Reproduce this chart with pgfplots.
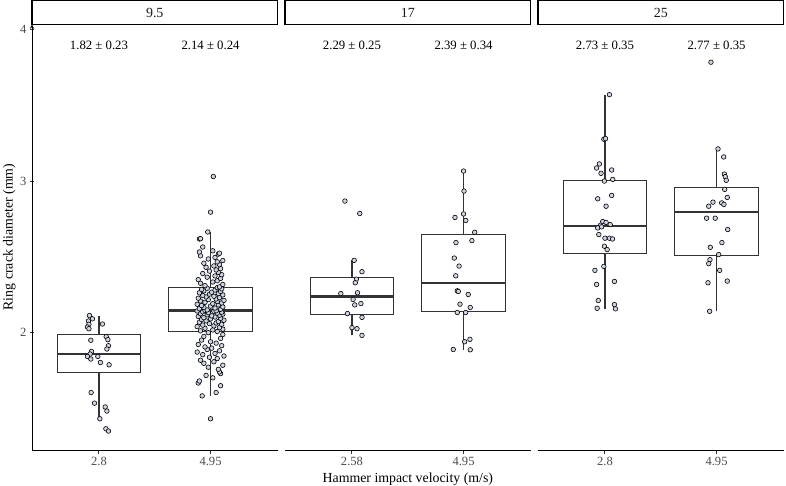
\documentclass[border=0pt]{standalone}
\usepackage{fontspec}
\setmainfont{Liberation Serif}
\usepackage{pgfplots}
\pgfplotsset{compat=1.18}
\definecolor{ptfill}{RGB}{205,213,228}
\definecolor{boxcol}{RGB}{51,51,51}
\definecolor{ticklab}{RGB}{77,77,77}
\definecolor{striptext}{RGB}{26,26,26}
\pgfplotsset{
  facet/.style={
    scale only axis, width=245.5bp, height=425.7bp,
    xmin=0.4, xmax=2.6, ymin=1.226, ymax=4.034,
    xtick={1,2}, clip=false,
    axis x line=bottom,
    axis line style={-, black, line width=1bp},
    tick style={boxcol, line width=1bp},
    major tick length=4bp, tick align=outside,
    tick label style={font=\fontsize{12.6}{15}\selectfont, text=ticklab},
    /pgf/number format/assume math mode=true,
  },
  boxline/.style={boxcol, line width=1.1bp, no marks, line join=miter},
  pts/.style={only marks, mark=*, mark size=2.3bp,
    mark options={fill=ptfill, draw=black, line width=0.6bp}},
}
% #1 left, #2 centre, #3 right, #4 lower whisker, #5 lower quartile, #6 median, #7 upper quartile, #8 upper whisker
\newcommand{\bx}[8]{%
  \addplot[boxline] coordinates {(#2,#7) (#2,#8)};
  \addplot[boxline] coordinates {(#2,#4) (#2,#5)};
  \addplot[boxline] coordinates {(#1,#5) (#3,#5) (#3,#7) (#1,#7) (#1,#5) (#3,#5)};
  \addplot[boxline, line width=2.6bp] coordinates {(#1,#6) (#3,#6)};}
\newcommand{\strip}[1]{%
  \draw[line width=1.1bp, black] (rel axis cs:0,1) rectangle ([yshift=23.4bp]rel axis cs:1,1);
  \node[font=\fontsize{14}{16}\selectfont, text=striptext] at ([yshift=11.7bp]rel axis cs:0.5,1) {#1};}
\newcommand{\annot}[2]{%
  \node[anchor=base, font=\fontsize{12.8}{15}\selectfont] at (axis cs:#1,3.869) {#2};}
\begin{document}
\begin{tikzpicture}
\useasboundingbox (0,0) rectangle (786bp,486bp);
% ---------------- panel 9.5
\begin{axis}[facet, at={(32bp,36bp)}, anchor=south west,
  axis y line=left, ytick={2,3,4}, xticklabels={2.8,4.95}]
\bx{0.625}{1}{1.375}{1.432}{1.74}{1.859}{1.985}{2.108}
\bx{1.625}{2}{2.375}{1.583}{2.005}{2.146}{2.296}{2.664}
\addplot[pts] coordinates {
(0.915,2.113) (0.942,2.091) (0.906,2.077) (0.910,2.055) (0.897,2.037) (0.910,2.026)
(1.031,2.057) (1.065,1.974) (1.080,1.954) (0.927,1.950) (1.085,1.914) (1.071,1.892)
(0.933,1.876) (0.921,1.859) (0.897,1.843) (0.927,1.826) (0.990,1.843) (1.013,1.803)
(1.091,1.788) (0.930,1.605) (0.960,1.535) (1.056,1.510) (1.071,1.483) (1.008,1.432)
(1.062,1.366) (1.085,1.351)
};
\addplot[pts] coordinates {
(2.00,1.432) (1.925,1.583) (2.05,1.605) (2.09,1.650) (1.89,1.668) (1.90,1.681)
(2.02,1.702) (1.96,1.718) (2.09,1.730) (2.08,1.741) (2.07,1.758) (1.98,1.772)
(2.11,1.785) (1.94,1.798) (2.03,1.808) (1.91,1.818) (2.06,1.829) (1.99,1.838)
(2.12,1.846) (1.93,1.855) (2.04,1.863) (1.88,1.872) (2.08,1.880) (1.97,1.889)
(2.01,1.898) (1.95,1.906) (2.10,1.914) (1.89,1.922) (2.05,1.931) (2.00,1.940)
(1.92,1.951) (2.09,1.962) (1.94,1.975) (2.11,1.988) (1.98,2.000)
(2.06,2.008) (1.91,2.012) (2.02,2.018) (2.11,2.023) (1.95,2.029) (2.08,2.034)
(1.88,2.040) (2.03,2.045) (1.93,2.050) (2.10,2.055) (1.99,2.060) (2.05,2.064)
(1.90,2.069) (2.07,2.073) (1.96,2.078) (2.12,2.082) (1.92,2.087) (2.00,2.091)
(2.09,2.095) (1.94,2.099) (2.04,2.103) (1.89,2.107) (2.01,2.111) (2.08,2.115)
(1.97,2.118) (2.11,2.122) (1.91,2.125) (2.06,2.129) (1.98,2.132) (2.10,2.135)
(1.93,2.138) (2.03,2.141) (1.88,2.143) (2.05,2.145) (1.95,2.147)
(1.97,2.150) (2.09,2.154) (1.90,2.158) (2.04,2.162) (1.94,2.166) (2.11,2.170)
(2.00,2.175) (1.92,2.179) (2.07,2.183) (1.88,2.187) (2.02,2.191) (2.10,2.196)
(1.95,2.200) (2.06,2.205) (1.91,2.209) (2.12,2.213) (1.98,2.218) (2.05,2.222)
(1.89,2.227) (2.08,2.231) (1.96,2.236) (2.03,2.240) (1.93,2.245) (2.11,2.249)
(1.99,2.254) (2.07,2.258) (1.90,2.263) (2.01,2.267) (2.09,2.272) (1.94,2.276)
(2.04,2.281) (1.92,2.285) (2.10,2.289) (1.97,2.293) (2.06,2.297)
(2.08,2.302) (1.95,2.310) (2.11,2.318) (1.91,2.326) (2.02,2.334) (2.06,2.342)
(1.89,2.350) (2.09,2.358) (1.97,2.366) (2.04,2.374) (2.10,2.382) (1.93,2.390)
(2.07,2.398) (1.99,2.406) (2.05,2.414) (2.09,2.422) (1.96,2.431) (2.03,2.440)
(2.08,2.449) (1.94,2.458) (2.06,2.467) (2.11,2.476) (1.98,2.486) (2.04,2.496)
(1.91,2.507) (2.07,2.518) (2.08,2.524) (1.90,2.532) (2.02,2.540) (1.93,2.565)
(1.90,2.618) (1.91,2.620) (1.975,2.664) (2.00,2.795) (2.025,3.030)
};
\strip{9.5}
\annot{1}{1.82 ± 0.23}
\annot{2}{2.14 ± 0.24}
\end{axis}
% ---------------- panel 17
\begin{axis}[facet, at={(285bp,36bp)}, anchor=south west,
  axis y line=none, ytick=\empty, xticklabels={2.58,4.95}]
\bx{0.625}{1}{1.375}{1.982}{2.121}{2.238}{2.366}{2.477}
\bx{1.625}{2}{2.375}{1.887}{2.141}{2.327}{2.649}{3.066}
\addplot[pts] coordinates {
(0.937,2.868) (1.070,2.786) (1.020,2.477) (1.090,2.402) (1.040,2.353) (1.030,2.329)
(0.900,2.258) (1.050,2.263) (1.010,2.219) (1.080,2.192) (1.025,2.183) (0.960,2.126)
(1.090,2.101) (1.000,2.033) (1.045,2.026) (1.090,1.982)
};
\addplot[pts] coordinates {
(2.000,3.066) (2.004,2.934) (2.000,2.783) (1.923,2.760) (2.020,2.740) (2.100,2.662)
(2.075,2.607) (1.932,2.594) (1.917,2.492) (1.960,2.439) (1.930,2.375) (1.944,2.276)
(1.953,2.272) (2.042,2.252) (1.968,2.188) (2.060,2.166) (1.944,2.133) (2.019,2.133)
(2.057,1.956) (2.010,1.940) (1.908,1.889) (2.060,1.887)
};
\strip{17}
\annot{1}{2.29 ± 0.25}
\annot{2}{2.39 ± 0.34}
\end{axis}
% ---------------- panel 25
\begin{axis}[facet, at={(538bp,36bp)}, anchor=south west,
  axis y line=none, ytick=\empty, xticklabels={2.8,4.95}]
\bx{0.625}{1}{1.375}{2.157}{2.521}{2.704}{3.002}{3.570}
\bx{1.625}{2}{2.375}{2.141}{2.508}{2.795}{2.960}{3.212}
\addplot[pts] coordinates {
(1.040,3.570) (0.990,3.276) (1.005,3.280) (0.950,3.113) (0.925,3.086) (0.965,3.051)
(1.060,3.073) (0.995,3.000) (1.070,3.011) (0.935,2.883) (1.060,2.905) (1.010,2.834)
(0.980,2.733) (1.010,2.727) (1.047,2.713) (0.960,2.709) (0.935,2.691) (0.970,2.698)
(0.945,2.647) (1.000,2.623) (1.040,2.623) (1.068,2.618) (0.995,2.570) (1.020,2.548)
(0.990,2.437) (0.910,2.411) (1.085,2.338) (0.925,2.318) (0.940,2.212) (1.085,2.185)
(0.930,2.161) (1.094,2.157)
};
\addplot[pts] coordinates {
(1.950,3.784) (2.013,3.212) (2.064,3.159) (2.070,3.046) (2.078,3.029) (2.087,3.005)
(2.073,2.945) (2.096,2.892) (1.968,2.861) (1.930,2.834) (2.046,2.856) (2.066,2.846)
(1.911,2.755) (1.988,2.755) (2.100,2.680) (2.048,2.594) (1.944,2.563) (2.019,2.515)
(1.941,2.481) (1.930,2.455) (2.028,2.411) (1.923,2.329) (2.096,2.340) (1.938,2.141)
};
\strip{25}
\annot{1}{2.73 ± 0.35}
\annot{2}{2.77 ± 0.35}
\end{axis}
\node[rotate=90, anchor=base, font=\fontsize{13.9}{16}\selectfont] at (12.5bp,249bp) {Ring crack diameter (mm)};
\node[anchor=base, font=\fontsize{13.9}{16}\selectfont] at (407.8bp,3.6bp) {Hammer impact velocity (m/s)};
\end{tikzpicture}
\end{document}
